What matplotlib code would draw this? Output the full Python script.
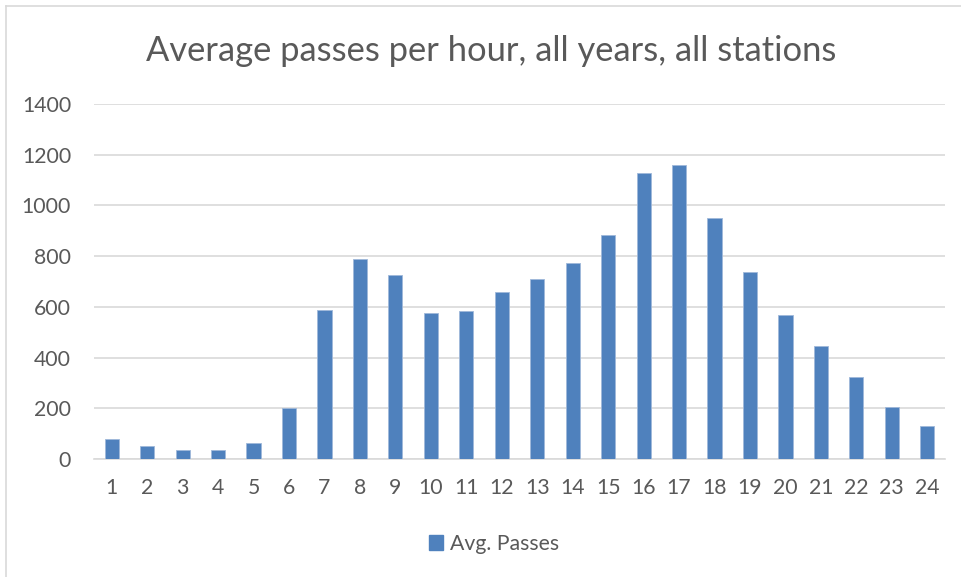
import matplotlib
matplotlib.use("Agg")
import matplotlib.pyplot as plt
from matplotlib.lines import Line2D

hours = [str(h) for h in range(1, 25)]
avg_passes = [80, 51, 36, 36, 63, 200, 589, 787, 726, 575, 585, 660,
              709, 774, 885, 1129, 1158, 950, 738, 568, 447, 324, 206, 129]
y_ticks = [0, 200, 400, 600, 800, 1000, 1200, 1400]

plt.rcParams['font.family'] = ['Lato', 'DejaVu Sans']
text_color = '#595959'
grid_color = '#d9d9d9'
bar_color = '#4f81bd'

fig = plt.figure(figsize=(9.62, 5.77), dpi=100)
ax = fig.add_axes([94/962, 1 - 459/577, (945 - 94)/962, (459 - 104)/577])

x = list(range(len(hours)))
ax.bar(x, avg_passes, width=0.40, color=bar_color, edgecolor='#9fb8da',
       linewidth=0.6, label='Avg. Passes', zorder=3)

ax.set_xlim(-0.5, len(hours) - 0.5)
ax.set_ylim(0, 1400)
ax.set_yticks(y_ticks)
ax.set_xticks(x)
ax.set_xticklabels(hours)
ax.yaxis.grid(True, color=grid_color, linewidth=1.2, zorder=0)
ax.set_axisbelow(True)
for s in ['top', 'right', 'left']:
    ax.spines[s].set_visible(False)
ax.spines['bottom'].set_color(grid_color)
ax.spines['bottom'].set_linewidth(1.2)
ax.tick_params(axis='both', length=0, labelsize=15.3, colors=text_color)
ax.tick_params(axis='y', pad=16.5)
ax.tick_params(axis='x', pad=13.5)

fig.text(491/962, 1 - 51/577, 'Average passes per hour, all years, all stations',
         ha='center', va='center', fontsize=24.8, color=text_color)

leg = fig.legend(handles=[plt.Rectangle((0, 0), 1, 1, color=bar_color)],
                 labels=['Avg. Passes'], loc='center', bbox_to_anchor=(494/962, 1 - 544/577),
                 frameon=False, fontsize=15.3, handlelength=0.65, handleheight=0.65,
                 handletextpad=0.35)
for t in leg.get_texts():
    t.set_color(text_color)

# chart border (left and top visible)
fig.add_artist(Line2D([6/962, 6/962], [0, 1 - 6/577], transform=fig.transFigure,
                      color='#d9d9d9', linewidth=1.2))
fig.add_artist(Line2D([6/962, 1], [1 - 6/577, 1 - 6/577], transform=fig.transFigure,
                      color='#d9d9d9', linewidth=1.2))

fig.savefig('out.png', dpi=100)
